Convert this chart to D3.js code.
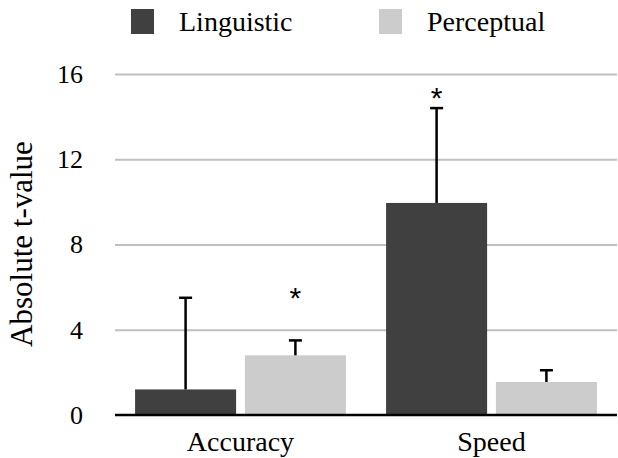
<!DOCTYPE html>
<html>
<head>
<meta charset="utf-8">
<script src="https://cdn.jsdelivr.net/npm/d3@7"></script>
</head>
<body style="margin:0">
<div id="chart"></div>
<script>
// Data
let categories = ["Accuracy", "Speed"];
let seriesNames = ["Linguistic", "Perceptual"];
let meanValues = [[1.2, 2.8], [9.95, 1.55]];      // per category, per series
let errorTops = [[5.5, 3.5], [14.4, 2.1]];        // upper end of error bar
let starLevels = [[null, 5.75], [15.15, null]];   // where the "*" sits (data units)
let yTicks = [0, 4, 8, 12, 16];

let colors = { Linguistic: "#404040", Perceptual: "#cccccc" };
let font = size => `${size}px 'Liberation Serif'`;

// Layout
let svgWidth = 618, svgHeight = 458;
let margin = { top: 74, right: 1, bottom: 43, left: 115 };
let chartWidth = svgWidth - margin.left - margin.right;
let chartHeight = svgHeight - margin.top - margin.bottom;

let svg = d3.select("#chart")
    .append("svg")
    .attr("width", svgWidth)
    .attr("height", svgHeight);

let chartGrp = svg.append("g")
    .attr("transform", `translate(${margin.left}, ${margin.top})`);

// Scales
let x0 = d3.scaleBand()
    .domain(categories)
    .range([0, chartWidth])
    .paddingInner(0.16)
    .paddingOuter(0.08);

let x1 = d3.scaleBand()
    .domain(seriesNames)
    .range([0, x0.bandwidth()])
    .paddingInner(0.08);

let yScale = d3.scaleLinear()
    .domain([0, 16])
    .range([chartHeight, 0]);

// Gridlines
let grid = chartGrp.append("g")
    .call(d3.axisLeft(yScale).tickValues(yTicks.slice(1)).tickSize(-chartWidth).tickFormat(""));
grid.select(".domain").remove();
grid.selectAll(".tick line").attr("stroke", "#bfbfbf").attr("stroke-width", 2);

// Y tick labels
let yAxis = chartGrp.append("g")
    .attr("transform", "translate(-32, 0)")
    .call(d3.axisLeft(yScale).tickValues(yTicks).tickSize(0).tickPadding(0));
yAxis.select(".domain").remove();
yAxis.attr("font-family", null).attr("font-size", null);
yAxis.selectAll("text")
    .style("font", font(26))
    .attr("fill", "#000");

// Rows of data
let rows = [];
categories.forEach((c, i) => {
    seriesNames.forEach((s, j) => {
        rows.push({ cat: c, series: s, value: meanValues[i][j], err: errorTops[i][j], star: starLevels[i][j] });
    });
});

// Bars
chartGrp.selectAll("rect.bar")
    .data(rows)
    .enter()
    .append("rect")
    .attr("class", "bar")
    .attr("x", d => x0(d.cat) + x1(d.series))
    .attr("y", d => yScale(d.value))
    .attr("width", x1.bandwidth())
    .attr("height", d => yScale(0) - yScale(d.value))
    .attr("fill", d => colors[d.series]);

// Error bars
let errGrp = chartGrp.selectAll("g.err")
    .data(rows)
    .enter()
    .append("g")
    .attr("class", "err")
    .attr("transform", d => `translate(${x0(d.cat) + x1(d.series) + x1.bandwidth() / 2}, 0)`);

errGrp.append("line")
    .attr("y1", d => yScale(d.value))
    .attr("y2", d => yScale(d.err))
    .attr("stroke", "#000")
    .attr("stroke-width", 2.5);

errGrp.append("line")
    .attr("x1", -6.5)
    .attr("x2", 6.5)
    .attr("y1", d => yScale(d.err))
    .attr("y2", d => yScale(d.err))
    .attr("stroke", "#000")
    .attr("stroke-width", 2.5);

// Significance stars
errGrp.filter(d => d.star !== null)
    .append("text")
    .attr("text-anchor", "middle")
    .attr("y", d => yScale(d.star) + 16)
    .style("font", "30px 'Liberation Sans'")
    .text("*");

// Baseline
chartGrp.append("line")
    .attr("x1", 0)
    .attr("x2", chartWidth)
    .attr("y1", yScale(0))
    .attr("y2", yScale(0))
    .attr("stroke", "#000")
    .attr("stroke-width", 2.5);

// Category labels
chartGrp.selectAll("text.cat")
    .data(categories)
    .enter()
    .append("text")
    .attr("class", "cat")
    .attr("x", d => x0(d) + x0.bandwidth() / 2)
    .attr("y", chartHeight + 36)
    .attr("text-anchor", "middle")
    .style("font", font(28))
    .text(d => d);

// Y axis title
svg.append("text")
    .attr("transform", `translate(32, 244) rotate(-90)`)
    .attr("text-anchor", "middle")
    .style("font", font(31))
    .text("Absolute t-value");

// Legend
let legendX = [131, 379];
let legend = svg.selectAll("g.legend")
    .data(seriesNames)
    .enter()
    .append("g")
    .attr("class", "legend")
    .attr("transform", (d, i) => `translate(${legendX[i]}, 9)`);

legend.append("rect")
    .attr("width", 23)
    .attr("height", 25)
    .attr("fill", d => colors[d]);

legend.append("text")
    .attr("x", 48)
    .attr("y", 22)
    .style("font", font(28))
    .text(d => d);
</script>
</body>
</html>
